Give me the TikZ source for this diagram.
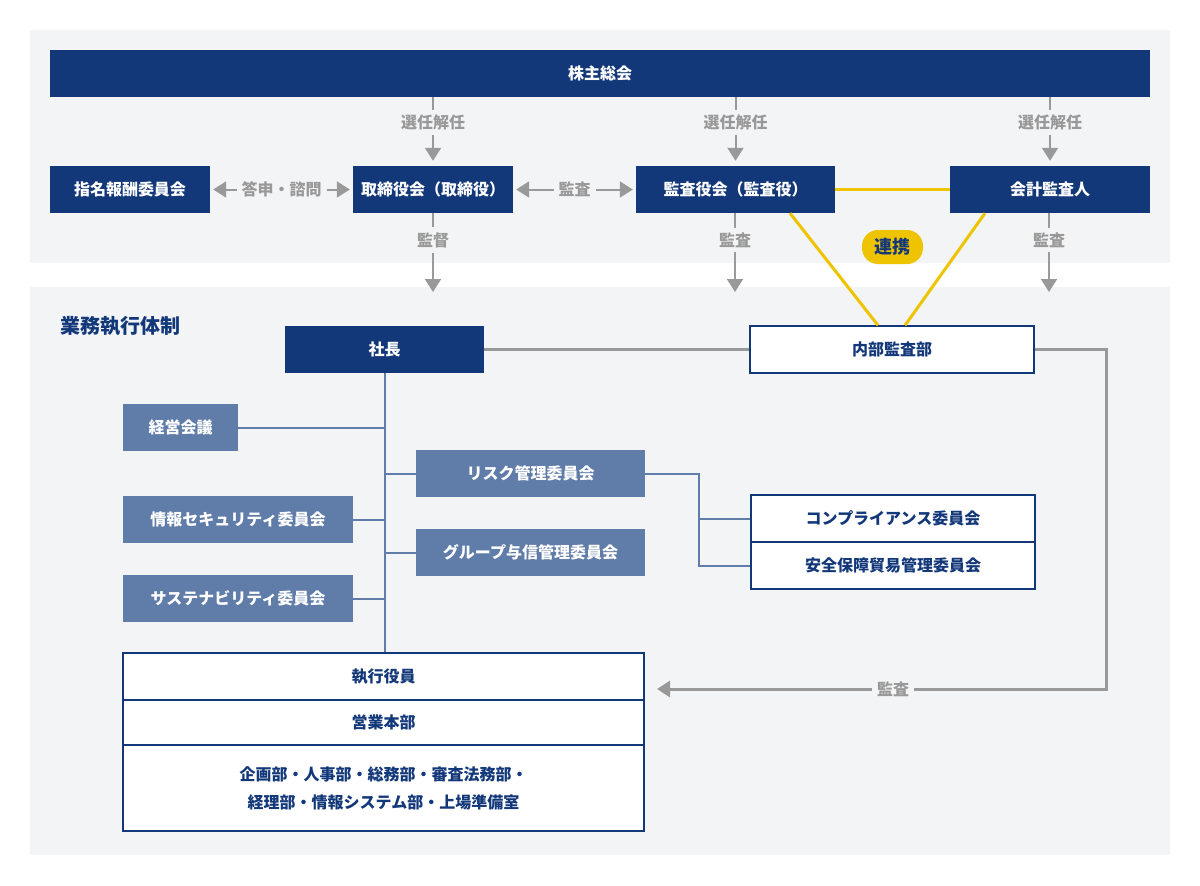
\documentclass[tikz,border=0pt]{standalone}
\usepackage{fontspec}
\setmainfont{Noto Sans CJK JP}
\usetikzlibrary{calc}
\usetikzlibrary{arrows.meta}

\definecolor{navy}{HTML}{13387A}
\definecolor{slate}{HTML}{607CA9}
\definecolor{panel}{HTML}{F3F4F6}
\definecolor{arrowgray}{HTML}{999999}
\definecolor{gold}{HTML}{EEC400}

\tikzset{
  darkbox/.style={fill=navy, text=white, font=\fontsize{16}{18}\selectfont\bfseries,
    minimum height=47pt, inner sep=0pt},
  midbox/.style={fill=slate, text=white, font=\fontsize{16}{18}\selectfont\bfseries,
    minimum height=47pt, inner sep=0pt},
  whitebox/.style={fill=white, draw=navy, line width=1.3pt, text=navy,
    font=\fontsize{16}{18}\selectfont\bfseries, minimum height=47pt, inner sep=0pt},
  lbl/.style={fill=panel, text=arrowgray, font=\fontsize{16}{18}\selectfont\bfseries,
    inner sep=5pt},
  grayarrow/.style={draw=arrowgray, line width=2pt,
    -{Triangle[width=16pt,length=13pt]}},
  branch/.style={draw=slate, line width=2pt},
  linkline/.style={draw=gold, line width=3pt}
}

\begin{document}
\begin{tikzpicture}[x=1pt,y=-1pt]

% Canvas and panels
\useasboundingbox (0,0) rectangle (1200,886);
\fill[white] (0,0) rectangle (1200,886);
\fill[panel] (30,30) rectangle (1170,263);
\fill[panel] (30,287) rectangle (1170,855);

% Governance boxes
\node[darkbox, minimum width=1100pt] (kabu) at (600,73.5) {株主総会};
\node[darkbox, minimum width=160pt] (shimei) at (130,189.5) {指名報酬委員会};
\node[darkbox, minimum width=160pt] (torishimari) at (433,189.5) {取締役会（取締役）};
\node[darkbox, minimum width=199pt] (kansayaku) at (735.5,189.5) {監査役会（監査役）};
\node[darkbox, minimum width=200pt] (kaikei) at (1050,189.5) {会計監査人};

% Election arrows
\foreach \t in {torishimari,kansayaku,kaikei} {
  \draw[grayarrow, shorten >=5pt] (kabu.south -| \t.north) -- (\t.north)
    node[lbl, pos=0.37] {選任解任};
}

% Horizontal arrows
\draw[grayarrow, {Triangle[width=16pt,length=13pt]}-{Triangle[width=16pt,length=13pt]},
  shorten <=3pt, shorten >=3pt] (shimei.east) -- (torishimari.west)
  node[lbl, midway] {答申・諮問};
\draw[grayarrow, {Triangle[width=16pt,length=13pt]}-{Triangle[width=16pt,length=13pt]},
  shorten <=3pt, shorten >=3pt] (torishimari.east) -- (kansayaku.west)
  node[lbl, midway] {監査};

% Arrows into the execution side
\coordinate (down1) at (433,292);
\coordinate (down2) at (735,292);
\coordinate (down3) at (1049,292);
\draw[grayarrow] (torishimari.south) -- (down1) node[lbl, pos=0.34] {監督};
\draw[grayarrow] (kansayaku.south -| down2) -- (down2) node[lbl, pos=0.34] {監査};
\draw[grayarrow] (kaikei.south -| down3) -- (down3) node[lbl, pos=0.34] {監査};

% Execution side
\node[anchor=west, text=navy, font=\fontsize{20}{22}\selectfont\bfseries]
  (gyomu) at (57,326) {業務執行体制};
\node[darkbox, minimum width=199pt] (shacho) at (384.5,349.5) {社長};
\node[whitebox, minimum width=284pt] (naibu) at (892,349.5) {内部監査部};

\node[midbox, minimum width=115pt] (keiei) at (180.5,427.5) {経営会議};
\node[midbox, minimum width=230pt] (joho) at (238,519.5) {情報セキュリティ委員会};
\node[midbox, minimum width=230pt] (sustain) at (238,598.5) {サステナビリティ委員会};
\node[midbox, minimum width=229pt] (risk) at (530.5,473.5) {リスク管理委員会};
\node[midbox, minimum width=229pt] (group) at (530.5,552.5) {グループ与信管理委員会};

\node[whitebox, minimum width=284pt] (comp) at (893,518.5) {コンプライアンス委員会};
\node[whitebox, minimum width=284pt] (anzen) at (893,565.5) {安全保障貿易管理委員会};

\node[whitebox, minimum width=521pt] (shikko) at (383.5,676.5) {執行役員};
\node[whitebox, minimum width=521pt, minimum height=45pt] (eigyo) at (383.5,722.5) {営業本部};
\node[whitebox, minimum width=521pt, minimum height=86pt, align=center]
  (bumon) at (383.5,788) {企画部・人事部・総務部・審査法務部・\\[10pt]経理部・情報システム部・上場準備室};

% Organisation lines
\draw[branch] (shacho.south) -- (shacho.south |- shikko.north);
\foreach \b in {keiei,joho,sustain} {
  \draw[branch] (\b.east) -- (\b.east -| shacho.south);
}
\foreach \b in {risk,group} {
  \draw[branch] (\b.west) -- (\b.west -| shacho.south);
}
\draw[branch] (risk.east) -- (699,473.5) coordinate (rj) |- (anzen.west);
\draw[branch] (rj |- comp.west) -- (comp.west);

% Internal audit lines
\coordinate (auditin) at (657,689);
\draw[draw=arrowgray, line width=3pt] (shacho.east) -- (naibu.west);
\draw[grayarrow, line width=3pt] (naibu.east) -- (1106,349.5) |- (auditin)
  node[lbl, pos=0.737] {監査};

% Cooperation
\draw[linkline] (kansayaku.east) -- (kaikei.west);
\draw[linkline] ($(kansayaku.south)+(54.5,0)$) -- ($(naibu.north)+(-14,0)$);
\draw[linkline] ($(kaikei.south)+(-65,0)$) -- ($(naibu.north)+(13,0)$);
\node[fill=gold, text=navy, rounded corners=16pt, minimum width=61pt, minimum height=34pt,
  inner sep=0pt, font=\fontsize{18}{20}\selectfont\bfseries] (renkei) at (892.5,247) {連携};

\end{tikzpicture}
\end{document}
